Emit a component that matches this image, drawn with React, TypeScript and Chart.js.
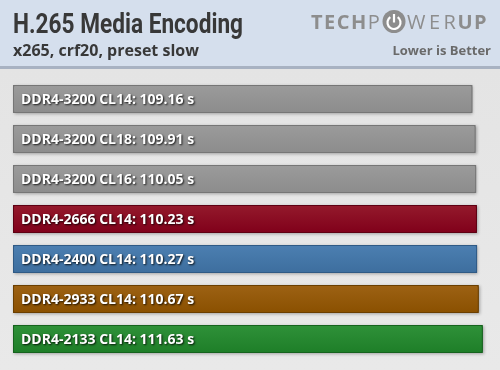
import React, { useEffect, useRef } from "react";
import { Chart, registerables } from "chart.js";

Chart.register(...registerables);

// Memory configurations and their H.265 encode times (seconds, lower is better)
const configs = [
  "DDR4-3200 CL14",
  "DDR4-3200 CL18",
  "DDR4-3200 CL16",
  "DDR4-2666 CL14",
  "DDR4-2400 CL14",
  "DDR4-2933 CL14",
  "DDR4-2133 CL14",
];
const seconds = [109.16, 109.91, 110.05, 110.23, 110.27, 110.67, 111.63];

// Bar fill (top, bottom of gradient) and edge colours
const fillTop = ["#9b9b9b", "#9b9b9b", "#9b9b9b", "#941a2c", "#4c7fb1", "#9d6214", "#2f9139"];
const fillBottom = ["#8c8c8c", "#8c8c8c", "#8c8c8c", "#80001a", "#3d6e9e", "#8a5000", "#1e7e28"];
const edges = ["#767676", "#767676", "#767676", "#5e0012", "#2f5a85", "#6b3f00", "#16631e"];

const TITLE = "H.265 Media Encoding";
const SUBTITLE = "x265, crf20, preset slow";
const NOTE = "Lower is Better";

function spaced(ctx: CanvasRenderingContext2D, text: string, x: number, y: number, gap: number) {
  // draw text letter by letter with extra tracking; returns the end x
  let cx = x;
  for (const ch of text) {
    ctx.fillText(ch, cx, y);
    cx += ctx.measureText(ch).width + gap;
  }
  return cx - gap;
}

const headerPlugin = {
  id: "header",
  beforeDraw(chart: any) {
    const ctx = chart.ctx as CanvasRenderingContext2D;
    const W = chart.width;
    const H = chart.height;
    ctx.save();
    // body background
    const bg = ctx.createLinearGradient(0, 69, 0, H);
    bg.addColorStop(0, "#e4e4e4");
    bg.addColorStop(1, "#e9e9e9");
    ctx.fillStyle = bg;
    ctx.fillRect(0, 0, W, H);
    // header band
    ctx.fillStyle = "#d5dfed";
    ctx.fillRect(0, 0, W, 66);
    ctx.fillStyle = "#a8b2c2";
    ctx.fillRect(0, 66, W, 3);

    // title + subtitle
    ctx.fillStyle = "#383838";
    ctx.textBaseline = "alphabetic";
    ctx.textAlign = "left";
    ctx.font = 'bold 28px Roboto, "Noto Sans", sans-serif';
    ctx.fillText(TITLE, 13, 33, 230);
    ctx.font = 'bold 16px "Open Sans", sans-serif';
    ctx.fillText(SUBTITLE, 13, 56, 186);

    // "Lower is Better"
    ctx.fillStyle = "#6a6a6a";
    ctx.textAlign = "right";
    ctx.font = 'bold 13px "Open Sans", sans-serif';
    ctx.fillText(NOTE, 491, 55);

    // TECHPOWERUP wordmark
    ctx.textAlign = "left";
    ctx.fillStyle = "#8d8d8d";
    ctx.font = 'bold 20px "Open Sans", sans-serif';
    let x = spaced(ctx, "TECH", 311, 29, 1.5);
    ctx.font = '20px "Open Sans", sans-serif';
    spaced(ctx, "P", x + 1.5, 29, 0);
    // power-button "O"
    const cx = 394, cy = 21.5, r = 11.5;
    ctx.beginPath();
    ctx.arc(cx, cy, r, 0, Math.PI * 2);
    ctx.fill();
    ctx.strokeStyle = "#ffffff";
    ctx.lineWidth = 2.2;
    ctx.beginPath();
    ctx.arc(cx, cy + 1, 6.5, -Math.PI / 2 + 0.6, -Math.PI / 2 - 0.6 + Math.PI * 2);
    ctx.stroke();
    ctx.beginPath();
    ctx.moveTo(cx, cy - 7.5);
    ctx.lineTo(cx, cy + 1);
    ctx.stroke();
    ctx.font = '20px "Open Sans", sans-serif';
    x = spaced(ctx, "WER", 407, 29, 3.5);
    ctx.font = 'bold 20px "Open Sans", sans-serif';
    spaced(ctx, "UP", x + 1.5, 29, 1.5);
    ctx.restore();
  },
  beforeDatasetsDraw(chart: any) {
    // soft drop shadow under each bar
    const ctx = chart.ctx as CanvasRenderingContext2D;
    const meta = chart.getDatasetMeta(0);
    ctx.save();
    ctx.shadowColor = "rgba(0,0,0,0.3)";
    ctx.shadowBlur = 3;
    ctx.shadowOffsetX = 1;
    ctx.shadowOffsetY = 1;
    meta.data.forEach((bar: any, i: number) => {
      const left = Math.min(bar.base, bar.x);
      const w = Math.abs(bar.x - bar.base);
      ctx.fillStyle = edges[i];
      ctx.fillRect(left, bar.y - bar.height / 2, w, bar.height);
    });
    ctx.restore();
  },
  afterDatasetsDraw(chart: any) {
    const ctx = chart.ctx as CanvasRenderingContext2D;
    const meta = chart.getDatasetMeta(0);
    ctx.save();
    ctx.font = 'bold 14px "Open Sans", sans-serif';
    ctx.fillStyle = "#ffffff";
    ctx.textAlign = "left";
    ctx.textBaseline = "alphabetic";
    ctx.shadowColor = "rgba(0,0,0,0.85)";
    ctx.shadowBlur = 2;
    ctx.shadowOffsetX = 1;
    ctx.shadowOffsetY = 1;
    meta.data.forEach((bar: any, i: number) => {
      const text = `${configs[i]}: ${seconds[i].toFixed(2)} s`;
      ctx.fillText(text, chart.chartArea.left + 8, bar.y + 5);
    });
    ctx.restore();
  },
};

export default function App() {
  const ref = useRef<HTMLCanvasElement | null>(null);

  useEffect(() => {
    const canvas = ref.current;
    if (!canvas) return;
    const chart = new Chart(canvas, {
      type: "bar",
      data: {
        labels: configs,
        datasets: [
          {
            data: seconds,
            backgroundColor: (c: any) => {
              const i = c.dataIndex ?? 0;
              const y = c.chart.scales?.y;
              const mid = y ? y.getPixelForValue(i) : NaN;
              if (!Number.isFinite(mid)) return fillBottom[i];
              const g = c.chart.ctx.createLinearGradient(0, mid - 14, 0, mid + 14);
              g.addColorStop(0, fillTop[i]);
              g.addColorStop(1, fillBottom[i]);
              return g;
            },
            borderColor: edges,
            borderWidth: 1,
            borderRadius: 2,
            borderSkipped: false,
            barPercentage: 0.7,
            categoryPercentage: 1,
          },
        ],
      },
      options: {
        indexAxis: "y",
        responsive: false,
        animation: false,
        events: [],
        layout: { padding: { top: 79, bottom: 11, left: 13, right: 3 } },
        scales: {
          x: { display: false, min: 0, max: 115 },
          y: { display: false },
        },
        plugins: {
          legend: { display: false },
          tooltip: { enabled: false },
        },
      },
      plugins: [headerPlugin],
    } as any);
    return () => chart.destroy();
  }, []);

  return (
    <div style={{ position: "absolute", left: 0, top: 0, width: 500, height: 370 }}>
      <canvas ref={ref} width={500} height={370} style={{ display: "block" }} />
    </div>
  );
}
